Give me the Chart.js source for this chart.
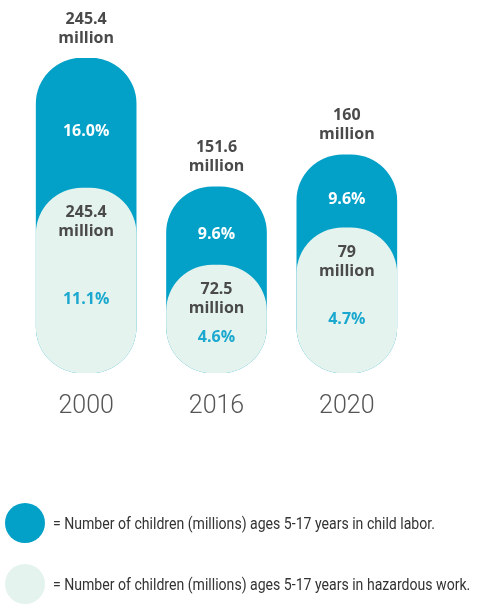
<!DOCTYPE html>
<html>
<head>
<meta charset="utf-8">
<script src="https://cdn.jsdelivr.net/npm/chart.js@4.4.1/dist/chart.umd.min.js"></script>
<style>
    body { margin: 0; background: #fff; }
    #wrap { position: relative; width: 478px; height: 604px; }
    #chart { position: absolute; left: 0; top: 0; }
    .legend-row { position: absolute; left: 5px; display: flex; align-items: center; white-space: nowrap; font-family: 'Roboto', sans-serif; font-size: 16px; color: #333; }
    .legend-row span { display: inline-block; transform: scaleX(0.88); transform-origin: left center; }
    .dot { width: 40px; height: 40px; border-radius: 50%; margin-right: 8px; flex: none; }
</style>
</head>
<body>
<div id="wrap">
    <canvas id="chart" width="478" height="604"></canvas>
    <div class="legend-row" style="top:503px;"><div class="dot" style="background:#03a0c7"></div><span>= Number of children (millions) ages 5-17 years in child labor.</span></div>
    <div class="legend-row" style="top:564px;"><div class="dot" style="background:#e4f3ed"></div><span>= Number of children (millions) ages 5-17 years in hazardous work.</span></div>
</div>
<script>
const years = ['2000', '2016', '2020'];

// values printed on the graphic
const laborMillions = [245.4, 151.6, 160];
const hazardMillions = [245.4, 72.5, 79];
const laborPct = [16.0, 9.6, 9.6];
const hazardPct = [11.1, 4.6, 4.7];

// bar lengths as drawn (the original graphic is not to scale with its labels)
const laborBarLen = [245.4, 145, 170];
const hazardBarLen = [144, 84, 113];

const darkBlue = '#03a0c7';
const mint = '#e4f3ed';

const labelPlugin = {
    id: 'barLabels',
    afterDatasetsDraw(chart) {
        const ctx = chart.ctx;
        const hazardMeta = chart.getDatasetMeta(0);
        const laborMeta = chart.getDatasetMeta(1);
        ctx.save();
        ctx.textAlign = 'center';
        ctx.textBaseline = 'middle';
        years.forEach((y, i) => {
            const lb = laborMeta.data[i];
            const hb = hazardMeta.data[i];
            const x = lb.x;
            const bottom = lb.base;

            // total above the bar
            ctx.fillStyle = '#4a4a4a';
            ctx.font = 'bold 16px "Open Sans", sans-serif';
            ctx.fillText(String(laborMillions[i]), x, lb.y - 39);
            ctx.fillText('million', x, lb.y - 20);

            // percent in the dark part
            ctx.fillStyle = '#ffffff';
            ctx.fillText(laborPct[i].toFixed(1) + '%', x, (lb.y + hb.y) / 2 + 8);

            // hazardous label
            ctx.fillStyle = '#4a4a4a';
            ctx.fillText(String(hazardMillions[i]), x, hb.y + 24);
            ctx.fillText('million', x, hb.y + 43);

            ctx.fillStyle = '#1ba8cf';
            ctx.fillText(hazardPct[i].toFixed(1) + '%', x, (hb.y + 43 + bottom) / 2 - 3);
        });
        ctx.restore();
    }
};

const ctx = document.getElementById('chart').getContext('2d');
new Chart(ctx, {
    type: 'bar',
    data: {
        labels: years,
        datasets: [
            {
                label: 'Hazardous work',
                data: hazardBarLen,
                backgroundColor: mint,
                borderRadius: 46,
                borderSkipped: false,
                barThickness: 100
            },
            {
                label: 'Child labor',
                data: laborBarLen,
                backgroundColor: darkBlue,
                borderRadius: 46,
                borderSkipped: false,
                barThickness: 100
            }
        ]
    },
    options: {
        responsive: false,
        animation: false,
        layout: { padding: { top: 58, left: 21, right: 66, bottom: 163 } },
        plugins: { legend: { display: false }, tooltip: { enabled: false } },
        scales: {
            x: {
                stacked: true,
                grid: { display: false, drawTicks: false },
                border: { display: false },
                ticks: {
                    color: '#555',
                    padding: 19,
                    font: { family: "'Roboto', sans-serif", size: 25, weight: '300' }
                }
            },
            y: {
                display: false,
                stacked: false,
                min: 0,
                max: 245.4
            }
        }
    },
    plugins: [labelPlugin]
});
</script>
</body>
</html>
